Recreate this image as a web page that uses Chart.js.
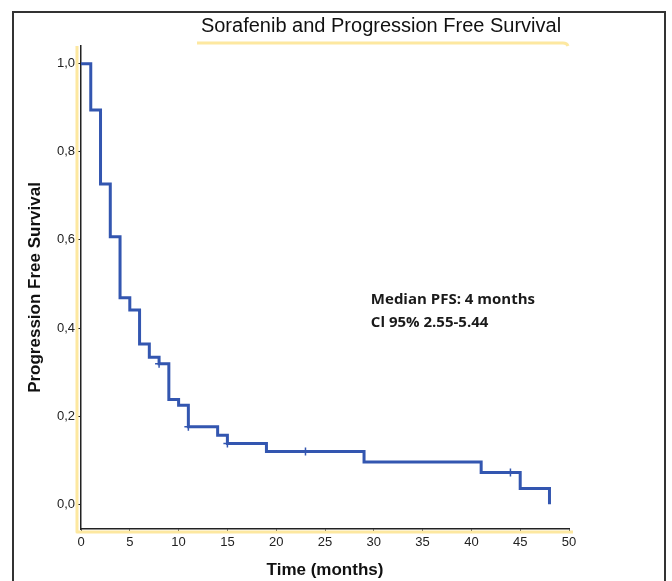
<!DOCTYPE html>
<html>
<head>
<meta charset="utf-8">
<script src="https://cdn.jsdelivr.net/npm/chart.js@4"></script>
<style>
  html, body { margin: 0; padding: 0; background: #fff; }
  #wrap { position: relative; width: 672px; height: 581px; overflow: hidden; }
  #frame { position: absolute; left: 12px; top: 11px; width: 654px; height: 620px;
           border: 2px solid #333; box-sizing: border-box; }
  canvas { position: absolute; left: 0; top: 0; }
</style>
</head>
<body>
<div id="wrap">
  <div id="frame"></div>
  <canvas id="chart" width="672" height="581"></canvas>
</div>
<script>
// Kaplan-Meier steps
const times = [0, 1, 2, 3, 4, 5, 6, 7, 8, 9, 10, 11, 14, 15, 19, 29, 41, 45, 48];
const survival = [1.0, 0.895, 0.727, 0.607, 0.469, 0.441, 0.364, 0.334, 0.319, 0.238, 0.225, 0.176, 0.157, 0.138, 0.120, 0.096, 0.072, 0.036, 0.0];

// censored cases (+ marks)
const censorTimes = [8, 11, 15, 23, 44];
const censorSurvival = [0.319, 0.176, 0.138, 0.120, 0.072];

const yTicks = [0, 0.2, 0.4, 0.6, 0.8, 1.0];
const xTicks = [0, 5, 10, 15, 20, 25, 30, 35, 40, 45, 50];

const chartTitle = "Sorafenib and Progression Free Survival";
const noteLines = ["Median PFS: 4 months", "Cl 95% 2.55-5.44"];
const noteAt = { x: 29.7, y: [0.465, 0.412] };

const lineColor = "#3356b0";
const yellow = "#fde8a0";
const font = "'Liberation Sans', Arial, sans-serif";

const steps = times.map((t, i) => ({ x: t, y: survival[i] }));
const censored = censorTimes.map((t, i) => ({ x: t, y: censorSurvival[i] }));

const extras = {
  id: "extras",
  beforeDatasetsDraw(chart) {
    const { ctx, chartArea: a } = chart;
    ctx.save();
    // yellow selection lines seen in the source image
    ctx.strokeStyle = yellow;
    ctx.lineWidth = 3;
    ctx.lineJoin = "round";
    ctx.beginPath();
    ctx.moveTo(a.left - 4, a.top);
    ctx.lineTo(a.left - 4, a.bottom + 3);
    ctx.lineTo(a.right + 4, a.bottom + 3);
    ctx.stroke();
    ctx.beginPath();
    ctx.moveTo(197, 43);
    ctx.lineTo(563, 43);
    ctx.quadraticCurveTo(567, 43, 568, 46);
    ctx.stroke();
    ctx.restore();
  },
  afterDraw(chart) {
    const { ctx } = chart;
    const xs = chart.scales.x, ys = chart.scales.y;
    ctx.save();
    ctx.fillStyle = "#111";
    ctx.font = "20px " + font;
    ctx.textAlign = "center";
    ctx.textBaseline = "middle";
    ctx.fillText(chartTitle, 381, 26);
    ctx.font = "bold 15px 'Open Sans', 'Liberation Sans', sans-serif";
    ctx.textAlign = "left";
    ctx.fillStyle = "#1a1a1a";
    noteLines.forEach((s, i) => {
      ctx.fillText(s, xs.getPixelForValue(noteAt.x), ys.getPixelForValue(noteAt.y[i]));
    });
    ctx.restore();
  }
};

new Chart(document.getElementById("chart"), {
  type: "line",
  data: {
    datasets: [
      {
        label: "PFS",
        data: steps,
        stepped: "before",
        borderColor: lineColor,
        borderWidth: 3,
        pointRadius: 0,
        fill: false
      },
      {
        label: "Censored",
        data: censored,
        showLine: false,
        pointStyle: "cross",
        pointRadius: 4,
        borderColor: lineColor,
        borderWidth: 1.5
      }
    ]
  },
  options: {
    responsive: false,
    animation: false,
    layout: { padding: { top: 46, right: 103, left: 0, bottom: 0 } },
    plugins: {
      legend: { display: false },
      tooltip: { enabled: false }
    },
    scales: {
      x: {
        type: "linear",
        min: 0,
        max: 50,
        afterFit: (s) => { s.height = 52; },
        afterBuildTicks: (s) => { s.ticks = xTicks.map(v => ({ value: v })); },
        border: { display: true, color: "#222", width: 1.5 },
        grid: { display: true, drawOnChartArea: false, tickLength: 4, color: "#222", tickWidth: 1 },
        ticks: { color: "#222", font: { family: font, size: 13 }, padding: 2, maxRotation: 0 },
        title: {
          display: true,
          text: "Time (months)",
          color: "#111",
          font: { family: font, size: 17, weight: "bold" },
          padding: { top: 0, bottom: 0 }
        }
      },
      y: {
        min: -0.056,
        max: 1.04,
        afterFit: (s) => { s.width = 81; },
        afterBuildTicks: (s) => { s.ticks = yTicks.map(v => ({ value: v })); },
        border: { display: true, color: "#222", width: 1.5 },
        grid: { display: true, drawOnChartArea: false, tickLength: 4, color: "#222", tickWidth: 1 },
        ticks: {
          color: "#222",
          font: { family: font, size: 13 },
          padding: 2,
          callback: (v) => v.toFixed(1).replace(".", ",")
        },
        title: {
          display: true,
          text: "Progression Free Survival",
          color: "#111",
          font: { family: font, size: 17, weight: "bold" },
          padding: { top: 25, bottom: 0 }
        }
      }
    }
  },
  plugins: [extras]
});
</script>
</body>
</html>
